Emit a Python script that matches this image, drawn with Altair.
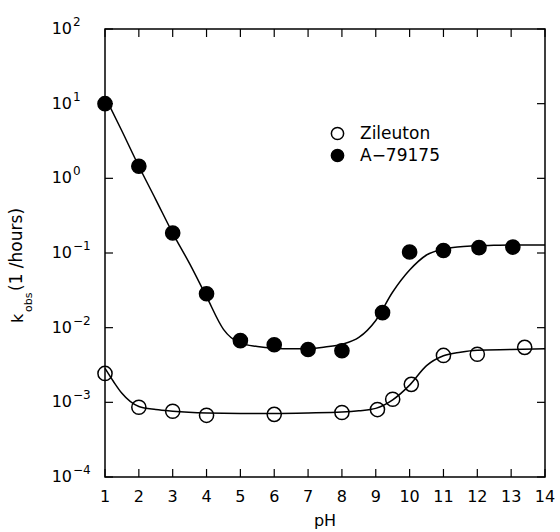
import altair as alt
import pandas as pd

# ---- data ----
zil_ph = [1.0, 2.0, 3.0, 4.0, 6.0, 8.0, 9.05, 9.5, 10.05, 11.0, 12.0, 13.4]
zil_k = [0.00244, 0.00086, 0.00076, 0.00067, 0.00069, 0.00073, 0.0008, 0.0011, 0.00174, 0.00425, 0.0044, 0.00545]

a_ph = [1.0, 2.0, 3.0, 4.0, 5.0, 6.0, 7.0, 8.0, 9.2, 10.0, 11.0, 12.05, 13.05]
a_k = [10.0, 1.45, 0.185, 0.0285, 0.0067, 0.0059, 0.0051, 0.0049, 0.0159, 0.103, 0.108, 0.118, 0.12]

a_curve_ph = [1.0, 1.5, 2.0, 2.5, 3.0, 3.5, 4.0, 4.5, 5.0, 5.5, 6.0, 6.5, 7.0, 7.5, 8.0, 8.5, 9.0, 9.5,
              10.0, 10.5, 11.0, 11.5, 12.0, 12.5, 13.0, 14.0]
a_curve_k = [12.4, 4.3, 1.45, 0.52, 0.185, 0.072, 0.026, 0.0095, 0.0062, 0.0056, 0.0053, 0.0052, 0.0052,
             0.0055, 0.006, 0.0074, 0.0125, 0.03, 0.059, 0.094, 0.113, 0.121, 0.125, 0.127, 0.128, 0.128]

z_curve_ph = [1.0, 1.25, 1.5, 2.0, 2.5, 3.0, 4.0, 5.0, 6.0, 7.0, 8.0, 8.5, 9.0, 9.5, 10.0, 10.5, 11.0,
              11.5, 12.0, 13.0, 14.0]
z_curve_k = [0.00285, 0.0019, 0.00132, 0.00088, 0.0008, 0.00076, 0.00072, 0.00071, 0.00071, 0.00072,
             0.00074, 0.00077, 0.00083, 0.00108, 0.0017, 0.0031, 0.0042, 0.0047, 0.005, 0.0051, 0.0052]

series_names = ["Zileuton", "A\u221279175"]

x_ticks = list(range(1, 15))
y_ticks = [1e-4, 1e-3, 1e-2, 1e-1, 1.0, 10.0, 100.0]
y_exps = ["\u22124", "\u22123", "\u22122", "\u22121", "0", "1", "2"]

# ---- tables ----
pts = pd.DataFrame(
    {"pH": zil_ph + a_ph,
     "k": zil_k + a_k,
     "series": [series_names[0]] * len(zil_ph) + [series_names[1]] * len(a_ph)}
)
curves = pd.DataFrame(
    {"pH": z_curve_ph + a_curve_ph,
     "k": z_curve_k + a_curve_k,
     "series": [series_names[0]] * len(z_curve_ph) + [series_names[1]] * len(a_curve_ph)}
)
xt = pd.DataFrame({"pH": x_ticks, "lab": [str(v) for v in x_ticks]})
yt = pd.DataFrame({"k": y_ticks, "base": ["10"] * len(y_ticks), "exp": y_exps})

W, H = 440, 448
FONT = "DejaVu Sans"
xs = alt.Scale(domain=[1, 14], nice=False, zero=False)
ys = alt.Scale(type="log", domain=[1e-4, 100], nice=False)

X = alt.X("pH:Q", scale=xs, axis=None)
Y = alt.Y("k:Q", scale=ys, axis=None)

lines = alt.Chart(curves).mark_line(color="black", strokeWidth=1.5, interpolate="monotone").encode(
    x=X, y=Y, detail="series:N"
)

points = alt.Chart(pts).mark_point(shape="circle", filled=True, size=200, stroke="black",
                                   strokeWidth=1.5, opacity=1).encode(
    x=X, y=Y,
    fill=alt.Fill("series:N",
                  scale=alt.Scale(domain=series_names, range=["transparent", "black"]),
                  legend=alt.Legend(orient="none", legendX=224, legendY=96, title=None,
                                    symbolType="circle", symbolSize=150,
                                    symbolStrokeColor="black", symbolStrokeWidth=1.5,
                                    symbolOpacity=1, labelFont=FONT, labelFontSize=17,
                                    labelColor="black", labelOffset=14, rowPadding=3,
                                    padding=0)),
)

# inward ticks on all four sides
bt = alt.Chart(xt).mark_rule(color="black", strokeWidth=1.2).encode(
    x=X, y=alt.value(H), y2=alt.value(H - 8))
tt = alt.Chart(xt).mark_rule(color="black", strokeWidth=1.2).encode(
    x=X, y=alt.value(0), y2=alt.value(8))
lt = alt.Chart(yt).mark_rule(color="black", strokeWidth=1.2).encode(
    y=Y, x=alt.value(0), x2=alt.value(8))
rt = alt.Chart(yt).mark_rule(color="black", strokeWidth=1.2).encode(
    y=Y, x=alt.value(W), x2=alt.value(W - 8))

xlab = alt.Chart(xt).mark_text(font=FONT, fontSize=16, baseline="alphabetic", align="center",
                               color="black").encode(x=X, y=alt.value(473), text="lab:N")
ylab = alt.Chart(yt).mark_text(font=FONT, fontSize=16, baseline="middle", align="right",
                               color="black").encode(y=Y, x=alt.value(-33), text="base:N")
yexp = alt.Chart(yt).mark_text(font=FONT, fontSize=12, baseline="middle", align="left", dy=-7,
                               color="black").encode(y=Y, x=alt.value(-32), text="exp:N")

title_df = pd.DataFrame({"t": ["pH"]})
xtitle = alt.Chart(title_df).mark_text(font=FONT, fontSize=16, baseline="alphabetic",
                                       align="center", color="black").encode(
    x=alt.value(W / 2), y=alt.value(497), text="t:N")

kt = alt.Chart(pd.DataFrame({"t": ["k"]})).mark_text(
    font=FONT, fontSize=16, angle=270, align="left", baseline="alphabetic", color="black").encode(
    x=alt.value(-82), y=alt.value(294), text="t:N")
ks = alt.Chart(pd.DataFrame({"t": ["obs"]})).mark_text(
    font=FONT, fontSize=11, angle=270, align="left", baseline="alphabetic", color="black").encode(
    x=alt.value(-73), y=alt.value(283), text="t:N")
kr = alt.Chart(pd.DataFrame({"t": ["(1 /hours)"]})).mark_text(
    font=FONT, fontSize=17, angle=270, align="left", baseline="alphabetic", color="black").encode(
    x=alt.value(-83), y=alt.value(262), text="t:N")

chart = alt.layer(lines, points, bt, tt, lt, rt, xlab, ylab, yexp, xtitle, kt, ks, kr).properties(
    width=W, height=H,
    autosize=alt.AutoSizeParams(type="none"),
    padding={"left": 105, "top": 29, "right": 15, "bottom": 55},
    background="white",
).configure_view(stroke="black", strokeWidth=1.5)

chart.save("out.html", embed_options={"renderer": "svg", "actions": False})
